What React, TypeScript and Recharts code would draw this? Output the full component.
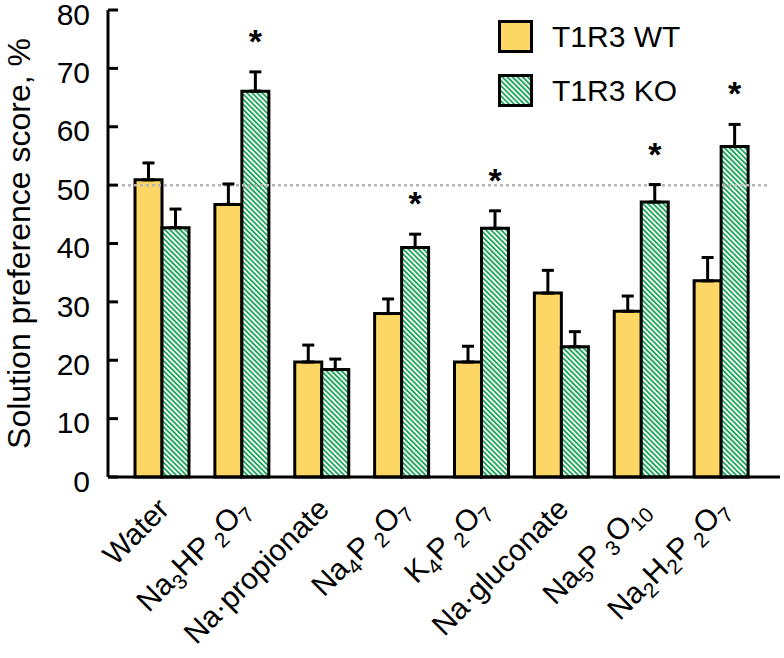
import React from "react";
import {
  BarChart,
  Bar,
  XAxis,
  YAxis,
  ErrorBar,
  ReferenceLine,
  LabelList,
  Legend,
} from "recharts";

const FONT = "'Liberation Sans', Arial, sans-serif";
const WT_FILL = "#fdd766";
const KO_GREEN = "#22a75c";

const CHART_W = 784;
const CHART_H = 658;
const TOP = 10;
const X_AXIS_H = 181;

// {x} marks a subscript, "{ x}" a subscript set off by a small gap
const categories = [
  "Water",
  "Na{3}HP{ 2}O{7}",
  "Na·propionate",
  "Na{4}P{ 2}O{7}",
  "K{4}P{ 2}O{7}",
  "Na·gluconate",
  "Na{5}P{ 3}O{10}",
  "Na{2}H{2}P{ 2}O{7}",
];
const wtValues = [50.9, 46.7, 19.7, 28.0, 19.7, 31.5, 28.4, 33.6];
const wtErrors = [2.9, 3.5, 2.9, 2.5, 2.7, 3.9, 2.6, 4.0];
const koValues = [42.7, 66.1, 18.4, 39.3, 42.6, 22.3, 47.1, 56.6];
const koErrors = [3.2, 3.3, 1.8, 2.3, 3.0, 2.6, 3.0, 3.8];
const koSignificant = [false, true, false, true, true, false, true, true];
const yTicks = [0, 10, 20, 30, 40, 50, 60, 70, 80];
const legendOrder = ["wt", "ko"];

const data = categories.map((name, i) => ({
  name,
  wt: wtValues[i],
  wtErr: [0, wtErrors[i]],
  ko: koValues[i],
  koErr: [0, koErrors[i]],
}));

const parseLabel = (s: string) => {
  const parts: { text: string; sub: boolean; gap: boolean }[] = [];
  const re = /\{([^}]*)\}|([^{]+)/g;
  let m: RegExpExecArray | null;
  while ((m = re.exec(s))) {
    if (m[1] !== undefined) {
      parts.push({ text: m[1].trim(), sub: true, gap: m[1].startsWith(" ") });
    } else {
      parts.push({ text: m[2], sub: false, gap: false });
    }
  }
  return parts;
};

const CategoryTick = (props: any) => {
  const { x, y, payload } = props;
  const ax = x + 9;
  const ay = y + 26;
  const parts = parseLabel(payload.value);
  let prevSub = false;
  return (
    <text
      x={ax}
      y={ay}
      textAnchor="end"
      transform={`rotate(-45, ${ax}, ${ay})`}
      fontSize={30}
      fontFamily={FONT}
      fill="#000"
    >
      {parts.map((p, i) => {
        const dy = p.sub && !prevSub ? 7 : !p.sub && prevSub ? -7 : 0;
        prevSub = p.sub;
        return (
          <tspan key={i} dy={dy} dx={p.gap ? 6 : 0} fontSize={p.sub ? 21 : 30}>
            {p.text}
          </tspan>
        );
      })}
    </text>
  );
};

const ValueTick = (props: any) => {
  const { x, y, payload } = props;
  return (
    <text
      x={x}
      y={y + 4}
      dy="0.355em"
      textAnchor="end"
      fontSize={30}
      fontFamily={FONT}
      fill="#000"
    >
      {payload.value}
    </text>
  );
};

const renderStar = (props: any) => {
  const { x, y, width, height, value, index } = props;
  if (!koSignificant[index]) return null;
  const pxPerUnit = height / value;
  const top = y - koErrors[index] * pxPerUnit;
  return (
    <text
      x={x + width / 2}
      y={top - 19}
      textAnchor="middle"
      fontSize={34}
      fontWeight="bold"
      fontFamily={FONT}
      fill="#000"
    >
      *
    </text>
  );
};

const DottedLine = (props: any) => {
  const { x1, x2, y1, y2 } = props;
  return (
    <line
      x1={x1 + 14}
      x2={x2 - 12}
      y1={y1}
      y2={y2}
      stroke="#b5b5b5"
      strokeWidth={2.5}
      strokeDasharray="3 3"
    />
  );
};

const LegendBox = ({ striped }: { striped: boolean }) => (
  <svg width={36} height={34} style={{ display: "block" }}>
    <defs>
      <pattern
        id="legendStripes"
        patternUnits="userSpaceOnUse"
        width={3.6}
        height={3.6}
        patternTransform="rotate(-45)"
      >
        <rect width={3.6} height={3.6} fill="#fff" />
        <rect width={1.9} height={3.6} fill={KO_GREEN} />
      </pattern>
    </defs>
    <rect
      x={1.5}
      y={1.5}
      width={32}
      height={30}
      fill={striped ? "url(#legendStripes)" : WT_FILL}
      stroke="#000"
      strokeWidth={3}
    />
  </svg>
);

const renderLegend = (props: any) => {
  const items = [...(props.payload || [])].sort(
    (a: any, b: any) => legendOrder.indexOf(a.dataKey) - legendOrder.indexOf(b.dataKey)
  );
  return (
    <div style={{ fontFamily: FONT, fontSize: 30, color: "#000" }}>
      {items.map((entry: any, i: number) => (
        <div key={i} style={{ display: "flex", alignItems: "center", height: 54 }}>
          <LegendBox striped={entry.dataKey === "ko"} />
          <span style={{ marginLeft: 18 }}>{entry.value}</span>
        </div>
      ))}
    </div>
  );
};

const App: React.FC = () => {
  const plotMid = TOP + (CHART_H - TOP - X_AXIS_H) / 2;
  return (
    <div style={{ position: "absolute", left: 0, top: 0 }}>
      <BarChart
        width={CHART_W}
        height={CHART_H}
        data={data}
        margin={{ top: TOP, right: 4, left: 0, bottom: 0 }}
        barGap={0}
        style={{ fontFamily: FONT }}
      >
        <defs>
          <pattern
            id="koStripes"
            patternUnits="userSpaceOnUse"
            width={3.6}
            height={3.6}
            patternTransform="rotate(-45)"
          >
            <rect width={3.6} height={3.6} fill="#fff" />
            <rect width={1.9} height={3.6} fill={KO_GREEN} />
          </pattern>
        </defs>
        <ReferenceLine y={50} shape={DottedLine} />
        <XAxis
          dataKey="name"
          interval={0}
          height={X_AXIS_H}
          padding={{ left: 14, right: 19 }}
          axisLine={{ stroke: "#000", strokeWidth: 3 }}
          tickLine={false}
          tick={<CategoryTick />}
        />
        <YAxis
          domain={[0, 80]}
          ticks={yTicks}
          interval={0}
          width={108}
          tickSize={-10}
          tickMargin={28}
          axisLine={{ stroke: "#000", strokeWidth: 3 }}
          tickLine={{ stroke: "#000", strokeWidth: 3 }}
          tick={<ValueTick />}
        />
        <Legend
          layout="vertical"
          align="center"
          verticalAlign="middle"
          content={renderLegend}
          wrapperStyle={{ top: 10, left: 498, width: 260 }}
        />
        <Bar
          dataKey="wt"
          name="T1R3 WT"
          fill={WT_FILL}
          stroke="#000"
          strokeWidth={3}
          barSize={27}
          isAnimationActive={false}
        >
          <ErrorBar dataKey="wtErr" width={6} stroke="#000" strokeWidth={3} direction="y" />
        </Bar>
        <Bar
          dataKey="ko"
          name="T1R3 KO"
          fill="url(#koStripes)"
          stroke="#000"
          strokeWidth={3}
          barSize={27}
          isAnimationActive={false}
        >
          <ErrorBar dataKey="koErr" width={6} stroke="#000" strokeWidth={3} direction="y" />
          <LabelList dataKey="ko" content={renderStar} />
        </Bar>
        <text
          x={30}
          y={plotMid}
          transform={`rotate(-90, 30, ${plotMid})`}
          textAnchor="middle"
          fontSize={32}
          fontFamily={FONT}
          fill="#000"
        >
          Solution preference score, %
        </text>
      </BarChart>
    </div>
  );
};

export default App;
